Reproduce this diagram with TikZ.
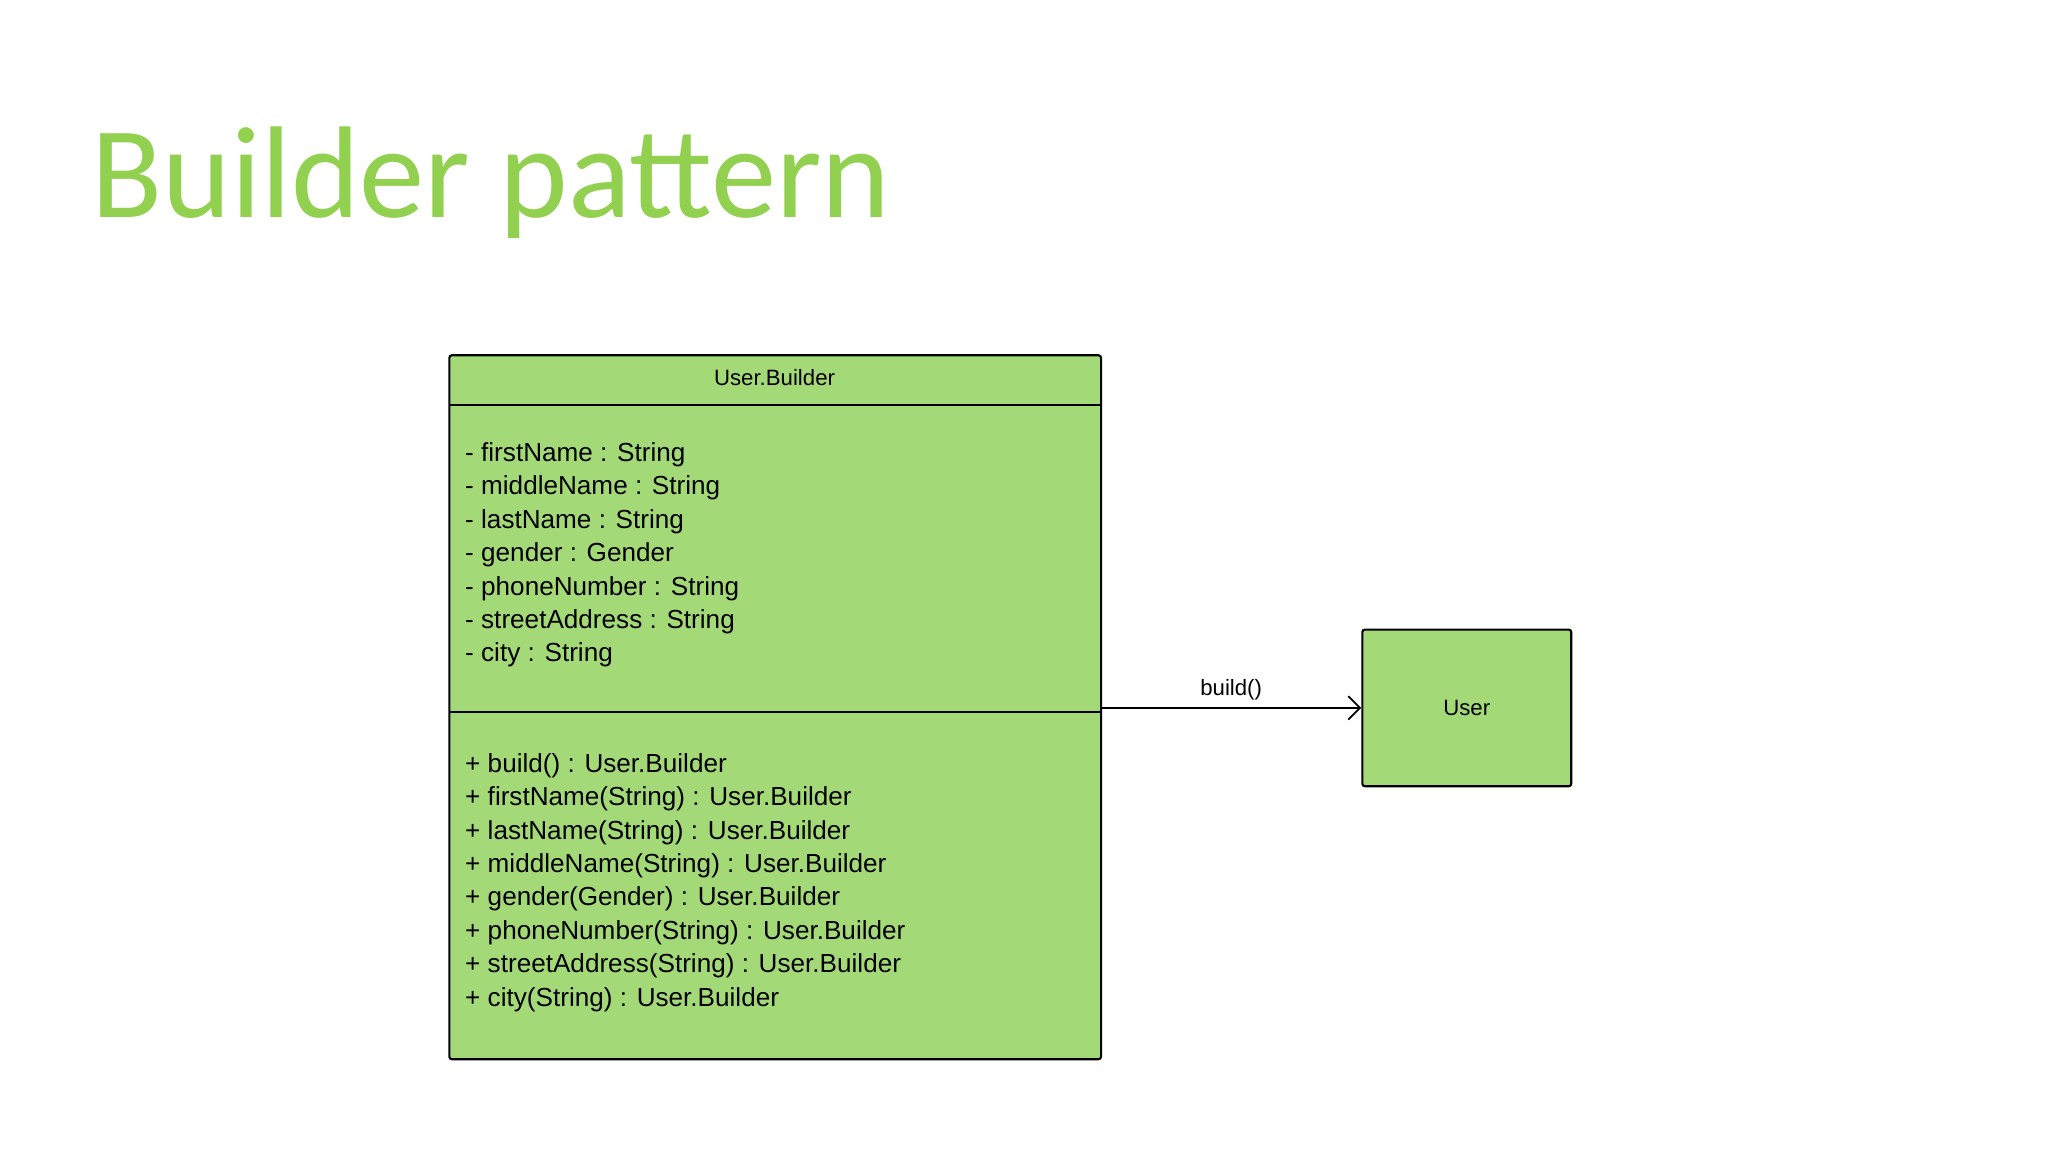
\documentclass[tikz,border=0pt]{standalone}
\usepackage{fontspec}
\setmainfont{Liberation Sans}
\newfontfamily\titlefont{Carlito}
\usetikzlibrary{arrows.meta}
\definecolor{tgreen}{HTML}{92D050}
\definecolor{bfill}{HTML}{A4D977}
\begin{document}
\begin{tikzpicture}[x=1pt,y=-1pt,
  box/.style={draw=black,line width=1.6pt,fill=bfill,rounded corners=2pt},
  item/.style={anchor=west,inner sep=0pt,font=\fontsize{20}{24}\selectfont},
  small/.style={inner sep=0pt,font=\fontsize{17}{20}\selectfont}]
\useasboundingbox[fill=white] (0,0) rectangle (1568,882);
\node[anchor=west,inner sep=0pt,text=tgreen,font=\titlefont\fontsize{100}{110}\selectfont] (title) at (70,140) {Builder pattern};
\draw[box] (344,272) rectangle (843,811);
\coordinate (cls) at (843,542);
\draw[line width=1.6pt] (344,310) -- (843,310);
\draw[line width=1.6pt] (344,545) -- (843,545);
\node[small] (hdr) at (593,289) {User.Builder};
\foreach \t [count=\i] in {- firstName : String,- middleName : String,- lastName : String,- gender : Gender,- phoneNumber : String,- streetAddress : String,- city : String}
  \node[item] (a\i) at (356,{348+25.6*(\i-1)}) {\t};
\foreach \t [count=\i] in {+ build() : User.Builder,+ firstName(String) : User.Builder,+ lastName(String) : User.Builder,+ middleName(String) : User.Builder,+ gender(Gender) : User.Builder,+ phoneNumber(String) : User.Builder,+ streetAddress(String) : User.Builder,+ city(String) : User.Builder}
  \node[item] (m\i) at (356,{586+25.6*(\i-1)}) {\t};
\node[box,minimum width=160pt,minimum height=120pt,small] (user) at (1123,542) {User};
\draw[line width=1.4pt,-{Straight Barb[length=9pt,width=18pt]}] (cls) -- (user.west) node[midway,above=5pt,small] (lbl) {build()};
\end{tikzpicture}
\end{document}
